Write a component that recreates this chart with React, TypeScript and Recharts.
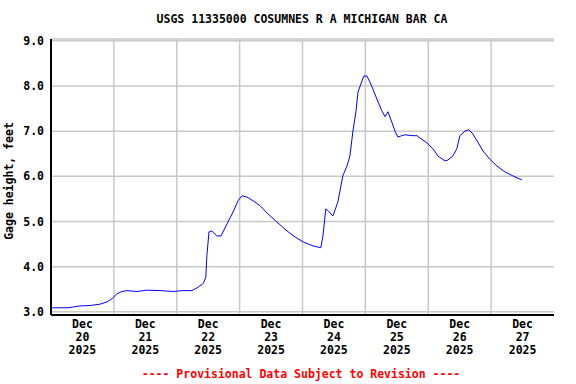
import React from "react";
import {
  LineChart,
  Line,
  XAxis,
  YAxis,
  CartesianGrid,
  ReferenceLine,
} from "recharts";

// hours since Dec 20 00:00 and gage height (ft)
const hours = [
  0, 6.5, 11, 15, 18.7, 21.4, 23.3, 25.2, 27.1, 29, 32.8, 36.6, 41.6, 46.6,
  50.4, 53.8, 55.7, 56.9, 57.6, 58.4, 59.1, 59.5, 60.3, 61.4, 63.3, 64.9, 67.2,
  69.5, 71.4, 72.9, 74.8, 77.1, 79.8, 82.8, 86.2, 90.1, 93.1, 96.2, 100, 103,
  103.8, 104.9, 105.7, 107.6, 109.5, 111.4, 113, 114.1, 115.2, 116.4, 117.2,
  118.7, 119.4, 120.6, 121.7, 122.9, 124.4, 126.3, 127.5, 128.6, 130.1, 131.3,
  132.4, 133.9, 135.1, 137.8, 139.7, 140.8, 143.5, 145.8, 147.7, 150.4, 151.5,
  153.4, 154.9, 156.1, 158, 159.5, 161, 162.9, 164.9, 167.5, 170.2, 173.2,
  176.3, 179.7,
];
const stage = [
  3.09, 3.09, 3.13, 3.14, 3.17, 3.22, 3.29, 3.4, 3.45, 3.47, 3.45, 3.48, 3.47,
  3.45, 3.47, 3.47, 3.53, 3.58, 3.6, 3.66, 3.77, 4.24, 4.77, 4.79, 4.68, 4.68,
  4.95, 5.21, 5.46, 5.57, 5.54, 5.46, 5.35, 5.17, 4.99, 4.79, 4.66, 4.55, 4.46,
  4.42, 4.68, 5.28, 5.24, 5.12, 5.43, 6.01, 6.23, 6.45, 6.98, 7.43, 7.87, 8.11,
  8.22, 8.22, 8.09, 7.93, 7.71, 7.45, 7.32, 7.43, 7.2, 7.0, 6.87, 6.9, 6.92,
  6.9, 6.9, 6.85, 6.74, 6.61, 6.45, 6.34, 6.36, 6.45, 6.61, 6.9, 7.0, 7.03,
  6.94, 6.76, 6.56, 6.38, 6.23, 6.1, 6.01, 5.92,
];

const days = ["20", "21", "22", "23", "24", "25", "26", "27"];
const month = "Dec";
const year = "2025";
const yTicks = [3, 4, 5, 6, 7, 8, 9];

const data = hours.map((h, i) => ({ h, v: stage[i] }));
const labelTicks = days.map((_, i) => i * 24 + 12);
const dayBreaks = days.slice(1).map((_, i) => (i + 1) * 24);

const FONT = "'DejaVu Sans Mono', monospace";

const DateTick = (props: any) => {
  const { x, y, payload } = props;
  const idx = Math.floor(payload.value / 24);
  return (
    <g>
      {[month, days[idx], year].map((s, k) => (
        <text
          key={k}
          x={x}
          y={y + 11 + k * 13}
          textAnchor="middle"
          fontFamily={FONT}
          fontWeight="bold"
          fontSize={11.5}
          fill="#000"
        >
          {s}
        </text>
      ))}
    </g>
  );
};

export default function App() {
  return (
    <div style={{ position: "absolute", left: 0, top: 0, background: "#fff" }}>
      <LineChart
        width={576}
        height={384}
        data={data}
        margin={{ top: 39, right: 22, bottom: 0, left: 0 }}
      >
        <CartesianGrid vertical={false} stroke="#c8c8c8" strokeWidth={1.5} />
        {dayBreaks.map((d) => (
          <ReferenceLine key={d} x={d} stroke="#c8c8c8" strokeWidth={1.5} />
        ))}
        <XAxis
          dataKey="h"
          type="number"
          domain={[0, 192]}
          ticks={labelTicks}
          tick={<DateTick />}
          tickLine={false}
          tickSize={0}
          height={69}
          stroke="#000"
          strokeWidth={2}
        />
        <XAxis
          xAxisId="top"
          orientation="top"
          type="number"
          domain={[0, 192]}
          height={0}
          tick={false}
          tickLine={false}
          stroke="#000"
          strokeWidth={2}
        />
        <YAxis
          type="number"
          domain={[2.93, 9.04]}
          ticks={yTicks}
          tickFormatter={(v: number) => v.toFixed(1)}
          tickLine={false}
          tickSize={0}
          tickMargin={7}
          width={51}
          stroke="#000"
          strokeWidth={2}
          tick={{
            fill: "#000",
            fontFamily: FONT,
            fontWeight: "bold",
            fontSize: 11.5,
          }}
        />
        <YAxis
          yAxisId="right"
          orientation="right"
          type="number"
          domain={[2.93, 9.04]}
          width={0}
          tick={false}
          tickLine={false}
          stroke="#000"
          strokeWidth={2}
        />
        <Line
          type="linear"
          dataKey="v"
          stroke="#0000ff"
          strokeWidth={1}
          dot={false}
          isAnimationActive={false}
        />
        <text
          x={302}
          y={23}
          textAnchor="middle"
          fontFamily={FONT}
          fontWeight="bold"
          fontSize={11.5}
          fill="#000"
        >
          USGS 11335000 COSUMNES R A MICHIGAN BAR CA
        </text>
        <text
          x={13}
          y={181}
          transform="rotate(-90 13 181)"
          textAnchor="middle"
          fontFamily={FONT}
          fontWeight="bold"
          fontSize={11.5}
          fill="#000"
        >
          Gage height, feet
        </text>
        <text
          x={301}
          y={378}
          textAnchor="middle"
          fontFamily={FONT}
          fontWeight="bold"
          fontSize={11.5}
          fill="#ff0000"
        >
          ---- Provisional Data Subject to Revision ----
        </text>
      </LineChart>
    </div>
  );
}
